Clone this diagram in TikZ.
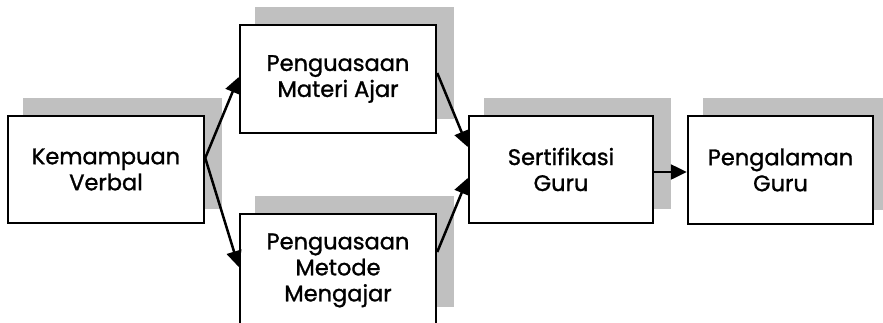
\documentclass[tikz,border=0pt]{standalone}
\usepackage{fontspec}
\setmainfont{Poppins}
\newfontfamily\boxfont{Poppins}[FakeBold=1.2]
\usetikzlibrary{arrows.meta,backgrounds,calc}
\definecolor{shadowgray}{RGB}{192,192,192}
\tikzset{
  box/.style={draw=black, line width=2.5pt, fill=white, align=center,
    inner sep=0pt, font=\boxfont\fontsize{22.5}{26}\selectfont},
  shade/.style={fill=shadowgray},
  link/.style={line width=2.5pt, -{Triangle[length=16pt,width=15pt]}},
}
\begin{document}
\begin{tikzpicture}[x=1pt,y=-1pt]
  \clip (0,0) rectangle (883,322);

  % boxes
  \node[box, minimum width=196pt, minimum height=107pt] (verbal) at (106,169.5) {Kemampuan\\Verbal};
  \node[box, minimum width=196pt, minimum height=108pt] (materi) at (338,79) {Penguasaan\\Materi Ajar};
  \node[box, minimum width=196pt, minimum height=113pt] (metode) at (338,270.5) {Penguasaan\\Metode\\Mengajar};
  \node[box, minimum width=184pt, minimum height=107pt] (sertif) at (561,169.5) {Sertifikasi\\Guru};
  \node[box, minimum width=185pt, minimum height=108pt] (pengal) at (780.5,170) {Pengalaman\\Guru};

  % drop shadows behind the boxes
  \begin{scope}[on background layer]
    \fill[shade] ($(verbal.north west)+(16,-17)$) rectangle ($(verbal.south east)+(17,-15)$);
    \fill[shade] ($(materi.north west)+(16,-17)$) rectangle ($(materi.south east)+(17,-15)$);
    \fill[shade] ($(metode.north west)+(16,-17)$) rectangle ($(metode.north east)+(17,94)$);
    \fill[shade] ($(sertif.north west)+(16,-17)$) rectangle ($(sertif.south east)+(17,-15)$);
    \fill[shade] ($(pengal.north west)+(16,-17)$) rectangle ($(pengal.south east)+(17,-15)$);
  \end{scope}

  % connectors
  \coordinate (vout) at ($(verbal.east)+(0,-11.5)$);
  \draw[link] (vout) -- ($(materi.west)+(0,-2)$);
  \draw[link] (vout) -- ($(metode.west)+(0,-3.5)$);
  \draw[link] ($(materi.east)+(0,-6)$) -- ($(sertif.west)+(0,-22.5)$);
  \draw[link] ($(metode.east)+(0,-18.5)$) -- ($(sertif.west)+(0,8.5)$);
  \draw[link] ($(sertif.east)+(0,2.5)$) -- ($(pengal.west)+(0,2)$);
\end{tikzpicture}
\end{document}
